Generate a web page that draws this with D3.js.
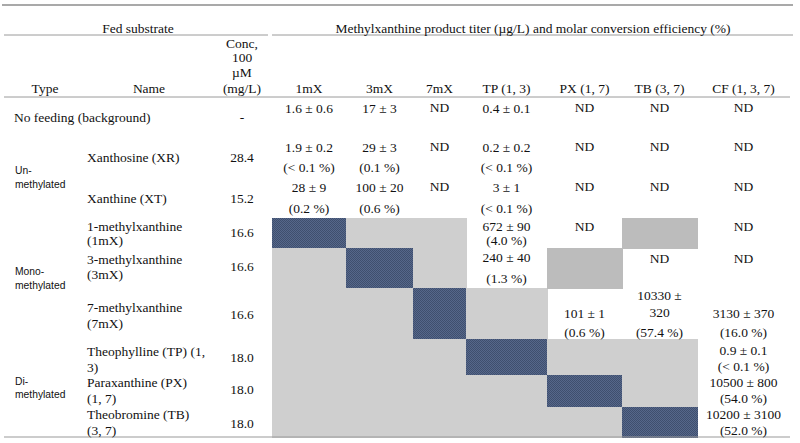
<!DOCTYPE html>
<html><head><meta charset="utf-8">
<script src="https://cdn.jsdelivr.net/npm/d3@7/dist/d3.min.js"></script>
<style>
html,body{margin:0;padding:0;background:#fff;}
svg{display:block;}
</style></head>
<body>
<script>
// ---------- DATA ----------
const products = ["1mX","3mX","7mX","TP (1, 3)","PX (1, 7)","TB (3, 7)","CF (1, 3, 7)"];
const rowIds = ["bg","XR","XT","1mX","3mX","7mX","TP","PX","TB"];
const types = ["", "Un-\nmethylated", "Mono-\nmethylated", "Di-\nmethylated"];
const typeRows = [[], ["XR","XT"], ["1mX","3mX","7mX"], ["TP","PX","TB"]];
const names = ["No feeding (background)","Xanthosine (XR)","Xanthine (XT)","1-methylxanthine\n(1mX)","3-methylxanthine\n(3mX)","7-methylxanthine\n(7mX)","Theophylline (TP) (1,\n3)","Paraxanthine (PX)\n(1, 7)","Theobromine (TB)\n(3, 7)"];
const conc = ["-","28.4","15.2","16.6","16.6","16.6","18.0","18.0","18.0"];
// titer (µg/L) per product column, row order as rowIds; "S" = fed substrate itself, "G" = not applicable, "M" = shaded cell
const titer1mX = ["1.6 ± 0.6","1.9 ± 0.2","28 ± 9","S","G","G","G","G","G"];
const titer3mX = ["17 ± 3","29 ± 3","100 ± 20","G","S","G","G","G","G"];
const titer7mX = ["ND","ND","ND","G","G","S","G","G","G"];
const titerTP  = ["0.4 ± 0.1","0.2 ± 0.2","3 ± 1","672 ± 90","240 ± 40","G","S","G","G"];
const titerPX  = ["ND","ND","ND","ND","M","101 ± 1","G","S","G"];
const titerTB  = ["ND","ND","ND","M","ND","10330 ±\n320","G","G","S"];
const titerCF  = ["ND","ND","ND","ND","ND","3130 ± 370","0.9 ± 0.1","10500 ± 800","10200 ± 3100"];
// molar conversion efficiency (%)
const eff1mX = ["","(< 0.1 %)","(0.2 %)","","","","","",""];
const eff3mX = ["","(0.1 %)","(0.6 %)","","","","","",""];
const eff7mX = ["","","","","","","","",""];
const effTP  = ["","(< 0.1 %)","(< 0.1 %)","(4.0 %)","(1.3 %)","","","",""];
const effPX  = ["","","","","","(0.6 %)","","",""];
const effTB  = ["","","","","","(57.4 %)","","",""];
const effCF  = ["","","","","","(16.0 %)","(< 0.1 %)","(54.0 %)","(52.0 %)"];

const titers = [titer1mX,titer3mX,titer7mX,titerTP,titerPX,titerTB,titerCF];
const effs = [eff1mX,eff3mX,eff7mX,effTP,effPX,effTB,effCF];

// ---------- LAYOUT ----------
const W = 800, H = 443;
const colEdges = [272,346,413,466,547,622,697,790];
const rowEdges = [97,137,177,218,248,288,339,375,407,437];
// text vertical centres within rows: [titer line, efficiency line, ND]
const rowTextY = {
  bg:[108,null,107], XR:[147,167,146], XT:[187,208,186], "1mX":[226,240,226], "3mX":[257,278,258],
  "7mX":[313,332,313], TP:[350,366,350], PX:[382,398,382], TB:[414,430,414]
};
const nameY = {bg:[117], XR:[157], XT:[198], "1mX":[226,240], "3mX":[259,274], "7mX":[307,323], TP:[351,367], PX:[382,398], TB:[414,430]};
const concY = {bg:117, XR:157, XT:198, "1mX":232, "3mX":266, "7mX":314, TP:357, PX:389, TB:423};

const serif = "'Liberation Serif','Times New Roman',serif";
const sans = "'Liberation Sans',Arial,sans-serif";
const fs = 13.5;

const svg = d3.select("body").append("svg").attr("width",W).attr("height",H);
const defs = svg.append("defs");
const pat = defs.append("pattern").attr("id","hatch").attr("patternUnits","userSpaceOnUse").attr("width",2).attr("height",2);
pat.append("rect").attr("width",2).attr("height",2).attr("fill","#56678a");
pat.append("rect").attr("width",1).attr("height",1).attr("fill","#3f4f6e");
pat.append("rect").attr("x",1).attr("y",1).attr("width",1).attr("height",1).attr("fill","#3f4f6e");

const x0 = d3.scaleOrdinal().domain(products).range(colEdges.slice(0,-1));
const x1 = d3.scaleOrdinal().domain(products).range(colEdges.slice(1));
const y0 = d3.scaleOrdinal().domain(rowIds).range(rowEdges.slice(0,-1));
const y1 = d3.scaleOrdinal().domain(rowIds).range(rowEdges.slice(1));
const xc = p => (x0(p)+x1(p))/2;

// cells
const cells = [];
products.forEach((p,ci)=>{
  rowIds.forEach((r,ri)=>{
    cells.push({p, r, t: titers[ci][ri], e: effs[ci][ri]});
  });
});
const fillOf = {S:"url(#hatch)", G:"#cfcfcf", M:"#bcbcbc"};
svg.append("g").selectAll("rect").data(cells.filter(d=>fillOf[d.t])).join("rect")
  .attr("x",d=>x0(d.p)).attr("y",d=>y0(d.r))
  .attr("width",d=>x1(d.p)-x0(d.p)+0.5).attr("height",d=>y1(d.r)-y0(d.r)+0.5)
  .attr("fill",d=>fillOf[d.t]).attr("shape-rendering","crispEdges");

// rules
const rule = (xa,xb,y,w,c)=>svg.append("line").attr("x1",xa).attr("x2",xb).attr("y1",y).attr("y2",y)
  .attr("stroke",c).attr("stroke-width",w);
rule(2,793,5,2,"#a9a9a9");
rule(4,268,35,1,"#9a9a9a");
rule(272,793,35,1,"#9a9a9a");
rule(4,790,97,1,"#9a9a9a");
rule(4,790,437,1.2,"#9a9a9a");

const txt = (s,x,y,opt={}) => svg.append("text").attr("x",x).attr("y",y)
  .attr("text-anchor",opt.anchor||"middle").attr("dominant-baseline","central")
  .attr("font-family",opt.font||serif).attr("font-size",opt.size||fs).attr("fill","#111").text(s);

// header
txt("Fed substrate",138,28);
txt("Methylxanthine product titer (\u00b5g/L) and molar conversion efficiency (%)",533,28);
txt("Type",45,88);
txt("Name",149,88);
["Conc,","100","\u00b5M","(mg/L)"].forEach((s,i)=>txt(s,242,[43,57,72,88][i]));
products.forEach(p=>txt(p,xc(p),88));

// names, conc
rowIds.forEach((r,i)=>{
  const lines = names[i].split("\n");
  const xx = r==="bg" ? 14 : 87;
  lines.forEach((s,k)=>txt(s,xx,nameY[r][k],{anchor:"start"}));
  txt(conc[i],242,concY[r]);
});
// types
types.forEach((t,i)=>{
  if(!t) return;
  const rs = typeRows[i];
  const mid = (y0(rs[0]) + y1(rs[rs.length-1]))/2;
  const lines = t.split("\n");
  lines.forEach((s,k)=>txt(s,15,mid + (k-(lines.length-1)/2)*13.5,{anchor:"start",font:sans,size:10.3}));
});

// values
cells.forEach(d=>{
  if(fillOf[d.t]) return;
  const ys = rowTextY[d.r];
  if(d.t==="ND"){ txt("ND",xc(d.p),ys[2]); return; }
  const tl = d.t.split("\n");
  if(tl.length>1){
    txt(tl[0],xc(d.p),295); txt(tl[1],xc(d.p),312);
  } else txt(d.t,xc(d.p),ys[0]);
  if(d.e) txt(d.e,xc(d.p),ys[1]);
});
</script>
</body></html>
